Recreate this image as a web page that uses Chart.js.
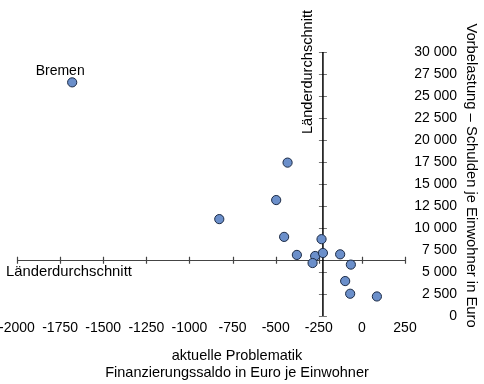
<!DOCTYPE html>
<html>
<head>
<meta charset="utf-8">
<script src="https://cdn.jsdelivr.net/npm/chart.js@4/dist/chart.umd.min.js"></script>
<style>
  html, body { margin: 0; padding: 0; background: #fff; }
  #wrap { width: 484px; height: 384px; }
</style>
</head>
<body>
<div id="wrap"><canvas id="myChart" width="484" height="384"></canvas></div>
<script>
// Länder: Finanzierungssaldo (x) und Schulden je Einwohner (y)
var saldo   = [-1680, -431, -497, -827, -451, -234, -377, -271, -226, -286, -126, -64, -97, -68, 87];
var schulden = [26550, 17430, 13175, 11010, 8990, 8730, 6940, 6820, 7160, 6020, 7010, 5840, 3970, 2530, 2220];
var labels  = ["Bremen", "", "", "", "", "", "", "", "", "", "", "", "", "", ""];

// Länderdurchschnitt (Achsenkreuz)
var avgSaldo = -226;
var avgSchulden = 6330;

var xMin = -2000, xMax = 250, xStep = 250;
var yMin = 0, yMax = 30000, yStep = 2500;

var xTitle = ["aktuelle Problematik", "Finanzierungssaldo in Euro je Einwohner"];
var yTitle = "Vorbelastung \u2013 Schulden je Einwohner in Euro";
var avgLabel = "Länderdurchschnitt";

var FAM = "'Liberation Sans', Arial, sans-serif";

var points = saldo.map(function(x, i) { return { x: x, y: schulden[i] }; });

var crossPlugin = {
  id: "cross",
  beforeDatasetsDraw: function(chart) {
    var ctx = chart.ctx, xs = chart.scales.x, ys = chart.scales.y;
    var ca = chart.chartArea;
    var cx = xs.getPixelForValue(avgSaldo);
    var cy = ys.getPixelForValue(avgSchulden);
    ctx.save();
    // horizontal line with ticks
    ctx.strokeStyle = "#444";
    ctx.lineWidth = 1.2;
    ctx.beginPath();
    ctx.moveTo(ca.left, Math.round(cy) + 0.5);
    ctx.lineTo(ca.right, Math.round(cy) + 0.5);
    xs.ticks.forEach(function(t) {
      var px = Math.round(xs.getPixelForValue(t.value)) + 0.5;
      ctx.moveTo(px, cy - 3.5);
      ctx.lineTo(px, cy + 3.5);
    });
    ctx.stroke();
    // vertical ticks
    ctx.strokeStyle = "#777";
    ctx.lineWidth = 1;
    ctx.beginPath();
    ys.ticks.forEach(function(t) {
      var py = Math.round(ys.getPixelForValue(t.value)) + 0.5;
      ctx.moveTo(cx - 4, py);
      ctx.lineTo(cx + 4, py);
    });
    ctx.stroke();
    // vertical line
    ctx.strokeStyle = "#000";
    ctx.lineWidth = 1.5;
    ctx.beginPath();
    ctx.moveTo(cx, ys.getPixelForValue(yMin));
    ctx.lineTo(cx, ys.getPixelForValue(yMax));
    ctx.stroke();

    // texts
    ctx.fillStyle = "#000";
    ctx.textBaseline = "middle";
    ctx.textAlign = "left";
    ctx.font = "14.8px " + FAM;
    ctx.fillText(avgLabel, 6, cy + 12);

    ctx.save();
    ctx.font = "14.6px " + FAM;
    ctx.translate(cx - 15, ca.top + 20);
    ctx.rotate(-Math.PI / 2);
    ctx.textAlign = "center";
    ctx.fillText(avgLabel, 0, 0);
    ctx.restore();

    ctx.save();
    ctx.font = "14.75px " + FAM;
    ctx.translate(471, 175.5);
    ctx.rotate(Math.PI / 2);
    ctx.textAlign = "center";
    ctx.fillText(yTitle, 0, 0);
    ctx.restore();

    ctx.font = "14.5px " + FAM;
    ctx.textAlign = "center";
    ctx.fillText(xTitle[0], 237, 356);
    ctx.fillText(xTitle[1], 237, 373);

    // point labels
    ctx.font = "14px " + FAM;
    var meta = chart.getDatasetMeta(0);
    meta.data.forEach(function(el, i) {
      if (labels[i]) ctx.fillText(labels[i], el.x - 12, el.y - 11);
    });
    ctx.restore();
  }
};

new Chart("myChart", {
  type: "scatter",
  data: {
    datasets: [{
      data: points,
      backgroundColor: "#6b8fca",
      borderColor: "#1b2a45",
      borderWidth: 1,
      pointRadius: 4.6,
      pointHoverRadius: 4.6
    }]
  },
  options: {
    responsive: false,
    animation: false,
    layout: { padding: { left: 17, top: 52, right: 27, bottom: 0 } },
    plugins: { legend: { display: false }, tooltip: { enabled: false } },
    scales: {
      x: {
        type: "linear",
        position: "bottom",
        min: xMin, max: xMax,
        grid: { display: false, drawTicks: false },
        border: { display: false },
        ticks: {
          stepSize: xStep,
          color: "#000",
          font: { family: FAM, size: 14 },
          padding: 4,
          maxRotation: 0,
          autoSkip: false,
          callback: function(v) { return String(v); }
        },
        afterFit: function(s) { s.height = 68; s.paddingLeft = 0; s.paddingRight = 0; }
      },
      y: {
        type: "linear",
        position: "right",
        min: yMin, max: yMax,
        grid: { display: false, drawTicks: false },
        border: { display: false },
        ticks: {
          stepSize: yStep,
          color: "#000",
          crossAlign: "far",
          padding: 9,
          font: { family: FAM, size: 14 },
          callback: function(v) { return String(v).replace(/\B(?=(\d{3})+(?!\d))/g, " "); }
        },
        afterFit: function(s) { s.width = 52; s.paddingTop = 0; s.paddingBottom = 0; }
      }
    }
  },
  plugins: [crossPlugin]
});
</script>
</body>
</html>
